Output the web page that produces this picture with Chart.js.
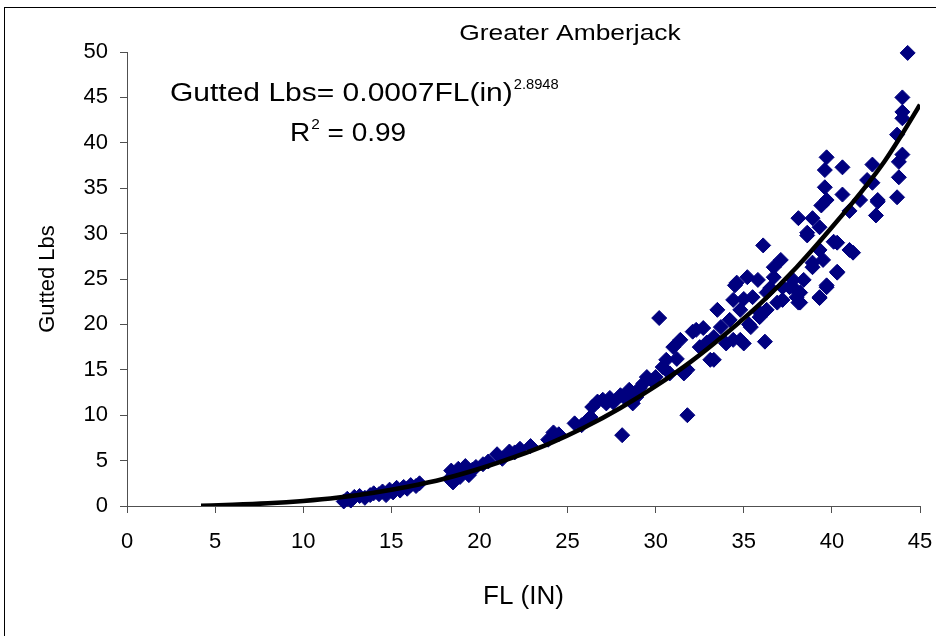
<!DOCTYPE html>
<html><head><meta charset="utf-8">
<script src="https://cdn.jsdelivr.net/npm/chart.js@4.4.1/dist/chart.umd.min.js"></script>
<style>html,body{margin:0;padding:0;background:#fff}#wrap{width:936px;height:636px;position:relative}canvas{display:block}</style>
</head><body><div id="wrap"><canvas id="c" width="936" height="636"></canvas></div>
<script>
// Fork length (in) of each measured fish
const fishLength = [
 12.3,12.5,12.7,12.9,13.2,13.5,13.8,14.0,14.3,14.5,14.7,14.9,15.1,15.3,15.5,15.7,15.9,16.1,16.4,16.6,
 18.3,18.4,18.5,18.6,18.8,18.9,19.1,19.2,19.4,19.6,19.8,20.2,20.5,
 21.0,21.3,21.7,22.0,22.3,22.9,
 23.9,24.2,24.5,25.4,25.8,26.1,26.3,
 26.4,26.7,27.0,27.2,27.4,27.6,28.0,28.3,28.5,28.7,28.9,29.1,29.3,29.5,28.1,
 29.8,30.0,30.2,30.4,30.6,30.8,31.0,31.2,31.4,31.6,31.8,31.8,32.1,32.3,32.5,32.7,32.9,33.1,33.3,33.3,33.5,33.7,
 34.0,34.2,34.4,34.4,34.5,34.6,34.8,34.8,35.0,35.0,35.2,35.3,35.4,35.5,35.8,35.9,35.9,36.1,36.2,36.3,36.3,36.5,36.7,36.7,36.9,37.1,37.2,37.2,
 37.6,37.8,37.8,38.0,38.1,38.1,38.2,38.2,38.4,38.6,38.6,38.9,38.9,38.9,39.3,39.3,39.3,39.3,39.4,39.5,39.6,39.6,39.7,39.7,39.7,39.7,
 40.1,40.3,40.3,40.3,40.6,40.6,41.0,41.2,41.6,41.0,
 42.0,42.3,42.3,42.5,42.6,42.6,43.7,43.7,43.8,43.8,44.0,44.0,44.0,44.0,44.3
];
// Gutted weight (lbs) of each measured fish
const guttedLbs = [
 0.5,0.8,0.6,1.0,1.1,0.9,1.2,1.4,1.3,1.6,1.2,1.8,1.5,2.0,1.7,2.1,1.9,2.3,2.2,2.5,
 3.0,3.9,2.6,3.5,4.1,3.2,3.8,4.4,3.4,4.0,4.3,4.6,4.9,
 5.7,5.2,6.0,5.9,6.3,6.6,
 7.3,8.1,7.9,9.1,8.9,9.4,9.8,
 10.9,11.5,11.7,11.3,11.9,11.4,12.2,11.8,12.8,11.3,12.0,13.0,13.5,14.2,7.8,
 13.8,14.2,20.7,15.3,16.1,14.6,17.5,16.2,18.3,14.6,15.0,10.0,19.2,19.4,17.5,19.6,18.0,16.1,16.1,18.6,21.6,19.7,
 17.9,20.5,22.7,18.3,24.3,24.6,21.6,18.3,17.9,22.8,25.2,20.0,19.7,23.0,24.9,21.3,20.8,28.7,18.1,23.5,21.6,24.0,26.3,25.2,22.4,27.1,24.1,22.7,
 24.1,24.9,24.1,23.0,31.7,22.4,23.5,22.4,24.9,29.8,30.1,31.7,26.8,26.3,28.2,30.7,23.0,22.9,33.1,27.1,37.0,35.1,38.4,33.7,24.3,24.1,
 29.1,25.8,29.0,25.7,37.3,34.3,28.2,27.9,33.7,32.5,
 35.9,37.6,35.6,32.0,33.5,33.7,34.0,40.9,36.2,37.9,45.0,43.4,42.7,38.7,49.9
];
// Power trendline
const trendLength = [4.2,6,8,10,12,14,16,18,20,22,24,26,28,30,32,34,36,38,40,42,43,44,45];
const trendLbs    = [0.04,0.13,0.29,0.55,0.93,1.46,2.14,3.0,4.1,5.4,6.9,8.7,10.8,13.2,15.9,19.0,22.4,26.3,30.7,35.4,38.0,41.0,44.2];

const chartTitle = 'Greater Amberjack';
const xTitle = 'FL (IN)';
const yTitle = 'Gutted Lbs';
const eqMain = 'Gutted Lbs= 0.0007FL(in)';
const eqExp = '2.8948';
const r2Value = '0.99';

const FONT = '"Liberation Sans", Arial, sans-serif';

const scatterData = fishLength.map((x, i) => ({x: x, y: guttedLbs[i]}));
const trendData = trendLength.map((x, i) => ({x: x, y: trendLbs[i]}));

// draw text stretched horizontally (the reference text is wide)
function wideText(ctx, txt, x, y, sx) {
  ctx.save();
  ctx.translate(x, y);
  ctx.scale(sx, 1);
  ctx.fillText(txt, 0, 0);
  ctx.restore();
  return ctx.measureText(txt).width * sx;
}

const decor = {
  id: 'decor',
  beforeDraw(chart) {
    const ctx = chart.ctx;
    ctx.save();
    ctx.fillStyle = '#fff';
    ctx.fillRect(0, 0, chart.width, chart.height);
    ctx.strokeStyle = '#000';
    ctx.lineWidth = 1;
    ctx.strokeRect(4.5, 7.5, chart.width + 10, chart.height + 10);
    ctx.restore();
  },
  afterDraw(chart) {
    const ctx = chart.ctx;
    ctx.save();
    ctx.fillStyle = '#000';
    ctx.textBaseline = 'alphabetic';
    ctx.textAlign = 'left';
    ctx.font = '22px ' + FONT;
    const tw = ctx.measureText(chartTitle).width * 1.2;
    wideText(ctx, chartTitle, 570 - tw / 2, 40, 1.2);
    ctx.font = '25px ' + FONT;
    let x = 170;
    x += wideText(ctx, eqMain, x, 101, 1.2);
    ctx.font = '14px ' + FONT;
    wideText(ctx, eqExp, x + 1, 89, 1.05);
    ctx.font = '25px ' + FONT;
    x = 290;
    x += wideText(ctx, 'R', x, 141, 1.12);
    ctx.font = '14px ' + FONT;
    x += wideText(ctx, '2', x + 1, 129, 1.1) + 1;
    ctx.font = '25px ' + FONT;
    wideText(ctx, ' = ' + r2Value, x, 141, 1.12);
    ctx.restore();
  }
};

new Chart(document.getElementById('c'), {
  data: {
    datasets: [
      {
        type: 'line',
        label: 'Power trend',
        data: trendData,
        borderColor: '#000',
        borderWidth: 4.5,
        pointRadius: 0,
        fill: false,
        cubicInterpolationMode: 'monotone',
        order: 0
      },
      {
        type: 'scatter',
        label: 'Gutted Lbs',
        data: scatterData,
        pointStyle: 'rectRot',
        pointRadius: 7.5,
        backgroundColor: '#00007f',
        borderColor: '#00007f',
        borderWidth: 1,
        clip: false,
        order: 1
      }
    ]
  },
  options: {
    responsive: false,
    animation: false,
    devicePixelRatio: 1,
    layout: {padding: {left: 0, right: 16, top: 52, bottom: 0}},
    plugins: {legend: {display: false}, tooltip: {enabled: false}, title: {display: false}},
    scales: {
      x: {
        type: 'linear', position: 'bottom', min: 0, max: 45,
        ticks: {stepSize: 5, color: '#000', font: {family: FONT, size: 22}, padding: 16, maxRotation: 0},
        grid: {display: true, drawOnChartArea: false, drawTicks: true, tickLength: 7, color: '#505050', tickColor: '#505050'},
        border: {display: true, color: '#505050', width: 1},
        title: {display: true, text: xTitle, color: '#000', font: {family: FONT, size: 26}, padding: {top: 4, bottom: 24}},
        afterFit(scale) { scale.height = 130; scale.paddingLeft = 0; scale.paddingRight = 0; }
      },
      y: {
        type: 'linear', position: 'left', min: 0, max: 50,
        ticks: {stepSize: 5, color: '#000', font: {family: FONT, size: 22}, padding: 12},
        grid: {display: true, drawOnChartArea: false, drawTicks: true, tickLength: 7, color: '#505050', tickColor: '#505050'},
        border: {display: true, color: '#505050', width: 1},
        title: {display: true, text: yTitle, color: '#000', font: {family: FONT, size: 22}, padding: {top: 35, bottom: 0}},
        afterFit(scale) { scale.width = 127; }
      }
    }
  },
  plugins: [decor]
});
</script>
</body></html>
